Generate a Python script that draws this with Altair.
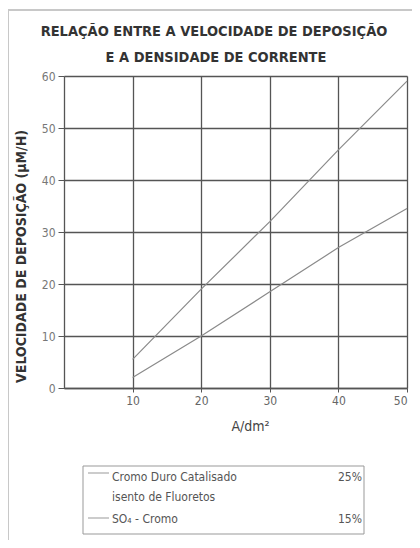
import altair as alt
import pandas as pd

# data
density = [10, 20, 30, 40, 50]
cromo_duro = [5.5, 19.0, 32.0, 45.8, 59.0]
so4_cromo = [2.0, 10.0, 18.5, 27.0, 34.5]

title_lines = ["RELAÇÃO ENTRE A VELOCIDADE DE DEPOSIÇÃO", "E A DENSIDADE DE CORRENTE"]
y_title = "VELOCIDADE DE DEPOSIÇÃO (µM/H)"
x_title = "A/dm²"
legend_line1 = ["Cromo Duro Catalisado", "isento de Fluoretos"]
legend_line2 = "SO₄ - Cromo"
legend_pct = ["25%", "15%"]
x_ticks = [10, 20, 30, 40, 50]
y_ticks = [0, 10, 20, 30, 40, 50, 60]

FONT = "Liberation Sans Narrow, DejaVu Sans Condensed, Arial Narrow, sans-serif"

df = pd.DataFrame({
    "x": density * 2,
    "y": cromo_duro + so4_cromo,
    "serie": ["Cromo Duro"] * 5 + ["SO4"] * 5,
})

W, H = 343, 312

lines = alt.Chart(df).mark_line(color="#8a8a8a", strokeWidth=1.2).encode(
    x=alt.X("x:Q", scale=alt.Scale(domain=[0, 50], nice=False),
            axis=alt.Axis(values=x_ticks, title=x_title, grid=True, gridColor="#555",
                          gridWidth=1.3, domainColor="#555", domainWidth=1.3,
                          tickColor="#555", tickSize=4, labelFont=FONT, labelFontSize=12,
                          labelColor="#666", labelPadding=3, titleFont=FONT,
                          titleFontSize=14, titleFontWeight="normal", titleColor="#444",
                          titleX=186, titleY=38, titleBaseline="middle")),
    y=alt.Y("y:Q", scale=alt.Scale(domain=[0, 60], nice=False),
            axis=alt.Axis(values=y_ticks, title=y_title, grid=True, gridColor="#555",
                          gridWidth=1.3, domainColor="#555", domainWidth=1.3,
                          tickColor="#555", tickSize=6, labelFont=FONT, labelFontSize=12,
                          labelColor="#777", labelPadding=3, titleFont=FONT,
                          titleFontSize=14, titleFontWeight="bold", titleColor="#333",
                          titleAngle=270, titleAlign="center", titleBaseline="middle",
                          titleX=-43, titleY=180)),
    detail="serie:N",
)

# outer page frame
frame = alt.Chart().mark_rect(fill=None, stroke="#c8c8c8", strokeWidth=2).encode(
    x=alt.value(-56), x2=alt.value(380), y=alt.value(-66), y2=alt.value(467))

# legend box
lbox = alt.Chart().mark_rect(fill=None, stroke="#999", strokeWidth=1).encode(
    x=alt.value(19), x2=alt.value(300), y=alt.value(390), y2=alt.value(458))
lr1 = alt.Chart().mark_rule(color="#999", strokeWidth=1).encode(
    x=alt.value(24), x2=alt.value(45), y=alt.value(397))
lr2 = alt.Chart().mark_rule(color="#999", strokeWidth=1).encode(
    x=alt.value(24), x2=alt.value(45), y=alt.value(442))

def txt(t, x, y, align="left", size=12, weight="normal", color="#555"):
    return alt.Chart().mark_text(font=FONT, fontSize=size, color=color, align=align,
                                 baseline="middle", fontWeight=weight).encode(
        x=alt.value(x), y=alt.value(y), text=alt.value(t))

legend_texts = [
    txt(legend_line1[0], 48, 401),
    txt(legend_line1[1], 48, 421),
    txt(legend_line2, 48, 443),
    txt(legend_pct[0], 298, 401, "right"),
    txt(legend_pct[1], 298, 443, "right"),
]

title_texts = [
    txt(title_lines[0], 150, -44, "center", 14.5, "bold", "#333"),
    txt(title_lines[1], 152, -18, "center", 14.5, "bold", "#333"),
]

chart = alt.layer(frame, lines, lbox, lr1, lr2, *legend_texts, *title_texts).properties(
    width=W, height=H,
    autosize=alt.AutoSizeParams(type="none"),
    padding={"left": 56, "top": 68, "right": 5, "bottom": 152},
).configure_view(stroke=None).configure(background="white")

chart.save("out.html", embed_options={"renderer": "svg", "actions": False})
